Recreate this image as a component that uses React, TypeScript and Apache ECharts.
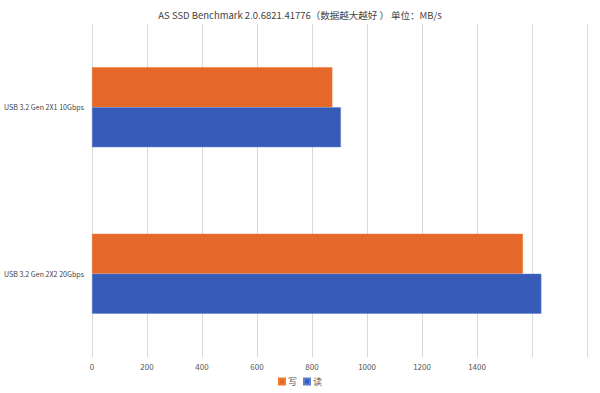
import React, { useEffect, useRef } from "react";
import * as echarts from "echarts";

const titleText = "AS SSD Benchmark 2.0.6821.41776（数据越大越好 ） 单位：MB/s";
const categories = ["USB 3.2 Gen 2X1 10Gbps", "USB 3.2 Gen 2X2 20Gbps"];
const writeValues = [874, 1567];
const readValues = [905, 1634];
const seriesNames = ["写", "读"];
const xTicksShown = [0, 200, 400, 600, 800, 1000, 1200, 1400];

export default function App() {
  const ref = useRef<HTMLDivElement>(null);
  useEffect(() => {
    if (!ref.current) return;
    const chart = echarts.init(ref.current, undefined, { renderer: "svg" });
    const font = "'Noto Sans CJK SC', 'Noto Sans', sans-serif";
    chart.setOption({
      animation: false,
      textStyle: { fontFamily: font },
      title: {
        text: titleText,
        left: "center",
        top: 5,
        textStyle: { fontSize: 9.5, fontWeight: "normal", color: "#444", fontFamily: font },
      },
      legend: {
        data: seriesNames,
        bottom: 2,
        left: "center",
        itemWidth: 6,
        itemHeight: 6,
        itemGap: 6,
        icon: "rect",
        textStyle: { fontSize: 9, color: "#555", padding: [0, 0, 0, -2] },
      },
      grid: { left: 92, right: 13, top: 24, bottom: 36, containLabel: false, outerBoundsMode: "none" },
      xAxis: {
        type: "value",
        min: 0,
        max: 1800,
        interval: 200,
        axisLine: { show: false },
        axisTick: { show: false },
        splitLine: { show: true, lineStyle: { color: "#d9d9d9", width: 1 } },
        axisLabel: {
          fontSize: 8,
          color: "#555",
          margin: 5,
          formatter: (v: number) => (xTicksShown.includes(v) ? String(v) : ""),
        },
      },
      yAxis: {
        type: "category",
        data: categories,
        inverse: true,
        axisLine: { show: false },
        axisTick: { show: false },
        axisLabel: { fontSize: 7.1, color: "#444", margin: 8 },
      },
      series: [
        {
          name: seriesNames[0],
          type: "bar",
          data: writeValues,
          barGap: "0%",
          barCategoryGap: "52%",
          itemStyle: { color: "#E5682A", borderColor: "#F07A30", borderWidth: 0.5 },
        },
        {
          name: seriesNames[1],
          type: "bar",
          data: readValues,
          barGap: "0%",
          barCategoryGap: "52%",
          itemStyle: { color: "#365CB7", borderColor: "#5A7FD0", borderWidth: 0.5 },
        },
      ],
    });
    return () => chart.dispose();
  }, []);
  return <div ref={ref} style={{ width: 600, height: 393, position: "absolute", left: 0, top: 0 }} />;
}
